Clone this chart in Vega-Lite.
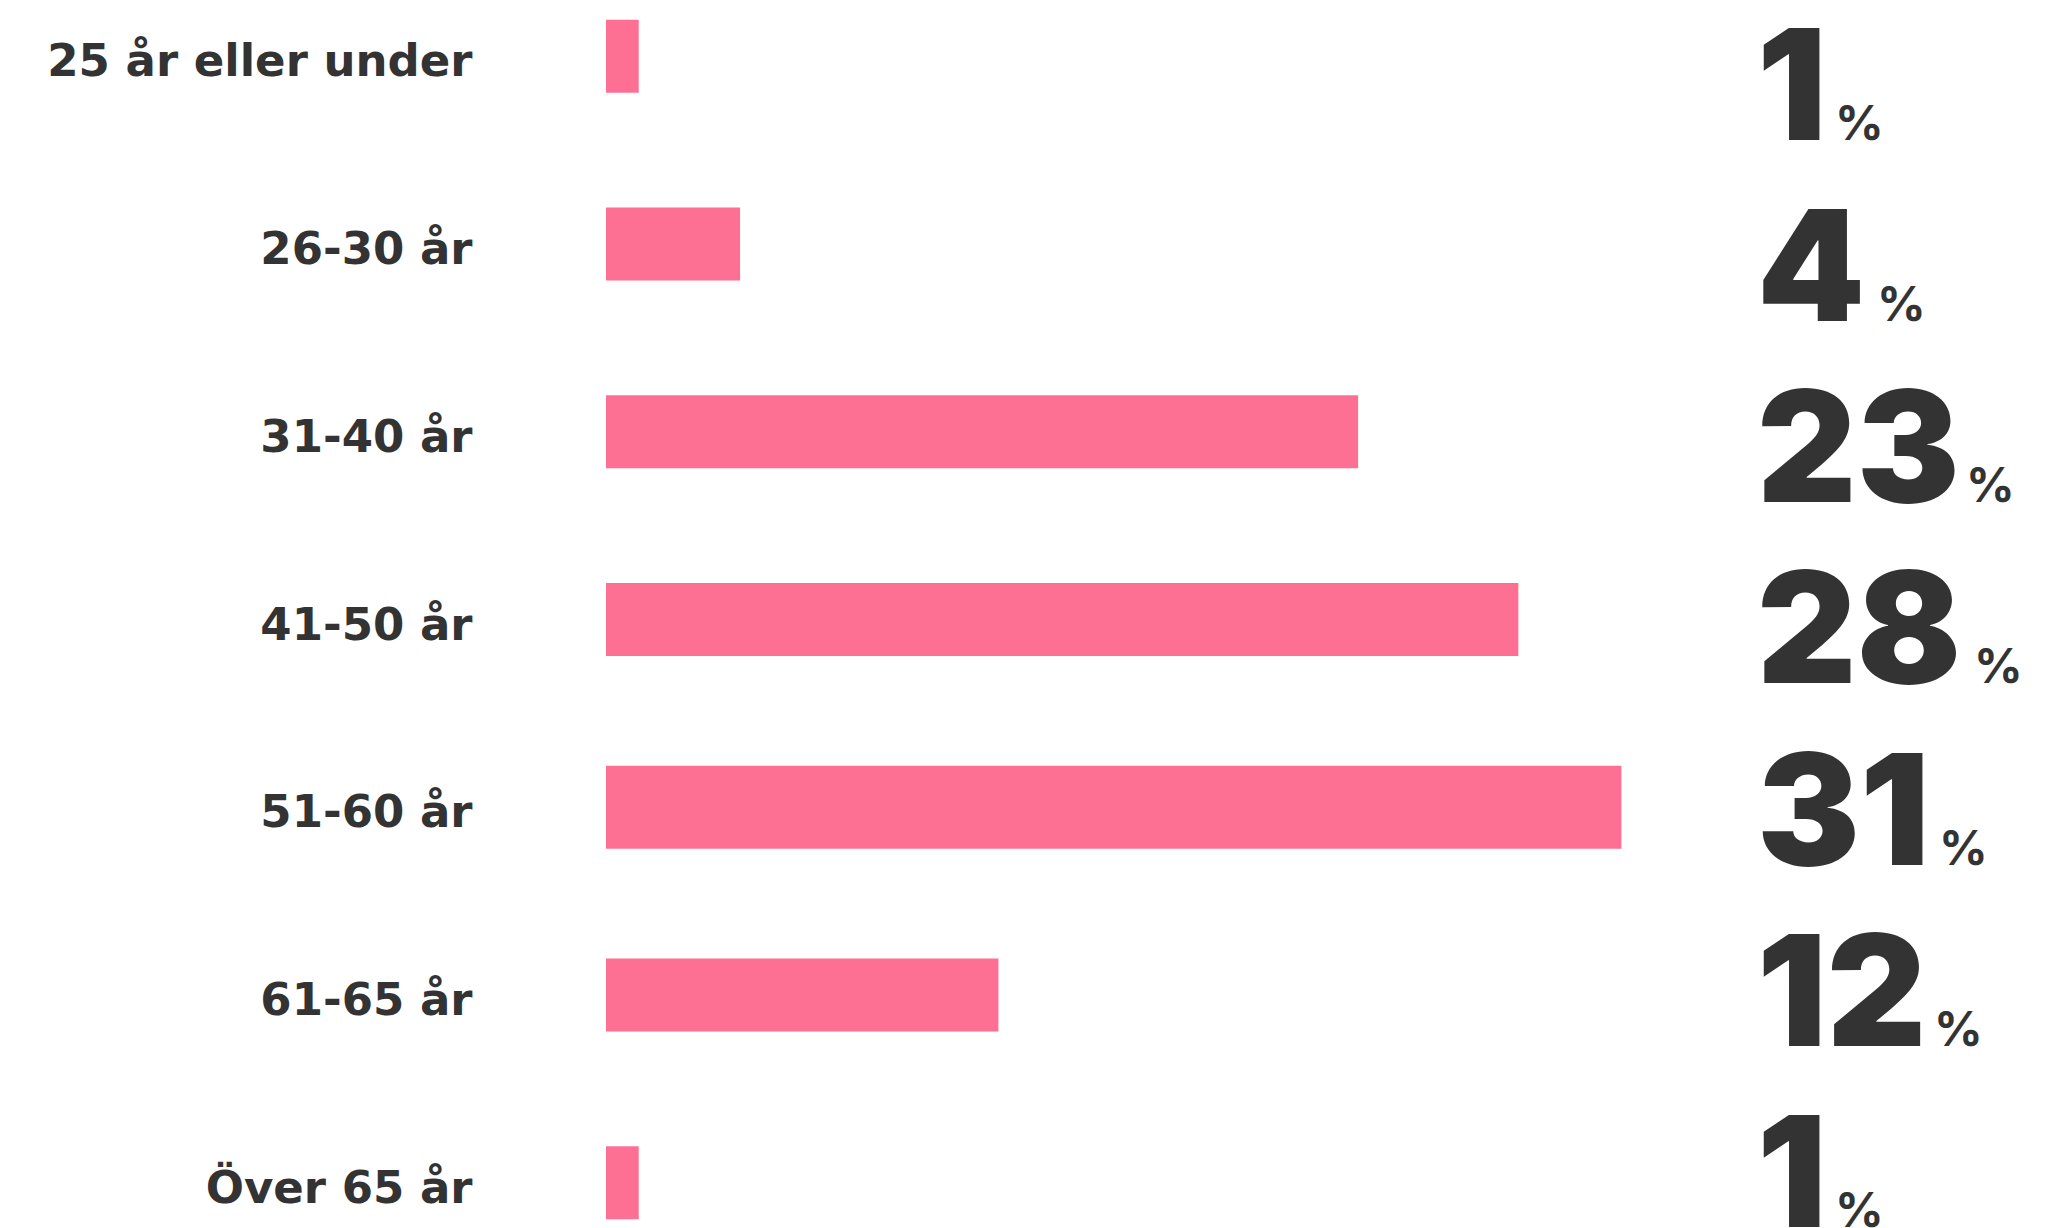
{
  "$schema": "https://vega.github.io/schema/vega-lite/v6.json",
  "autosize": "none",
  "padding": {"left": 606, "top": 11, "right": 0, "bottom": 0},
  "width": 1448,
  "height": 1217,
  "background": "white",
  "config": {"view": {"stroke": null}},
  "data": {"values": [
    {"group": "25 år eller under", "value": 1, "pct": 1},
    {"group": "26-30 år", "value": 4.1, "pct": 4},
    {"group": "31-40 år", "value": 23, "pct": 23},
    {"group": "41-50 år", "value": 27.9, "pct": 28},
    {"group": "51-60 år", "value": 31.05, "pct": 31},
    {"group": "61-65 år", "value": 12, "pct": 12},
    {"group": "Över 65 år", "value": 1, "pct": 1}
  ]},
  "layer": [
    {
      "mark": {"type": "bar", "color": "#FE7093"},
      "encoding": {
        "y": {"field": "group", "type": "nominal", "sort": null,
          "scale": {"paddingInner": 0.6095, "paddingOuter": 0.0456},
          "axis": {"title": null, "domain": false, "ticks": false, "labelFont": "DejaVu Sans", "labelFontWeight": "bold", "labelFontSize": 45, "labelColor": "#333333", "labelPadding": 134, "labelLimit": 0, "labelOffset": 6}},
        "x": {"field": "value", "type": "quantitative", "scale": {"domain": [0, 44.28], "nice": false, "zero": true}, "axis": null},
        "size": {"condition": {"test": "datum.pct == 31", "value": 83}, "value": 73}
      }
    },
    {
      "mark": {"type": "text", "font": "Inter", "fontWeight": 900, "fontSize": 154, "color": "#333333", "align": "left", "baseline": "alphabetic"},
      "encoding": {
        "y": {"field": "group", "type": "nominal", "sort": null, "scale": {"type": "point", "padding": 0.3563, "align": 0.995}, "axis": null},
        "x": {"datum": 35.2, "type": "quantitative", "scale": {"domain": [0, 44.28], "nice": false, "zero": true}, "axis": null},
        "text": {"field": "pct", "type": "quantitative"}
      }
    },
    {
      "mark": {"type": "text", "font": "Inter", "fontWeight": 700, "fontSize": 48, "color": "#333333", "align": "left", "baseline": "alphabetic", "text": "%"},
      "encoding": {
        "y": {"field": "group", "type": "nominal", "sort": null, "scale": {"type": "point", "padding": 0.3563, "align": 0.995}, "axis": null},
        "x": {"field": "pct", "type": "quantitative", "scale": {"domain": [1, 4, 12, 23, 28, 31], "range": [1229, 1271, 1328, 1360, 1368, 1333]}, "axis": null}
      }
    }
  ],
  "resolve": {"scale": {"x": "independent", "y": "independent"}}
}
